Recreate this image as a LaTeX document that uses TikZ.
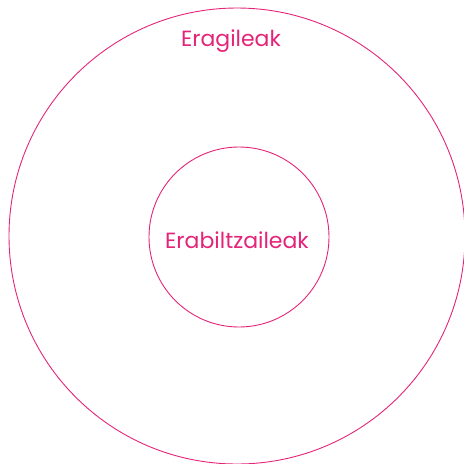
\documentclass[tikz,border=0pt]{standalone}
\usepackage{fontspec}
\setmainfont{Poppins}
\definecolor{pinkline}{RGB}{228,36,120}
\begin{document}
\begin{tikzpicture}[x=1pt,y=-1pt,
  ring/.style={draw=pinkline,line width=0.9pt,circle,inner sep=0pt},
  lbl/.style={text=pinkline,font=\fontsize{22}{24}\selectfont,inner sep=0pt}]
\useasboundingbox (0,0) rectangle (464,464);
\node[ring,minimum size=456pt] (outer) at (237,236) {};
\node[ring,minimum size=180pt] (inner) at (239,237) {};
\node[lbl] (eragileak) at (231,41) {Eragileak};
\node[lbl] (erabiltzaileak) at (237,240) {Erabiltzaileak};
\end{tikzpicture}
\end{document}
